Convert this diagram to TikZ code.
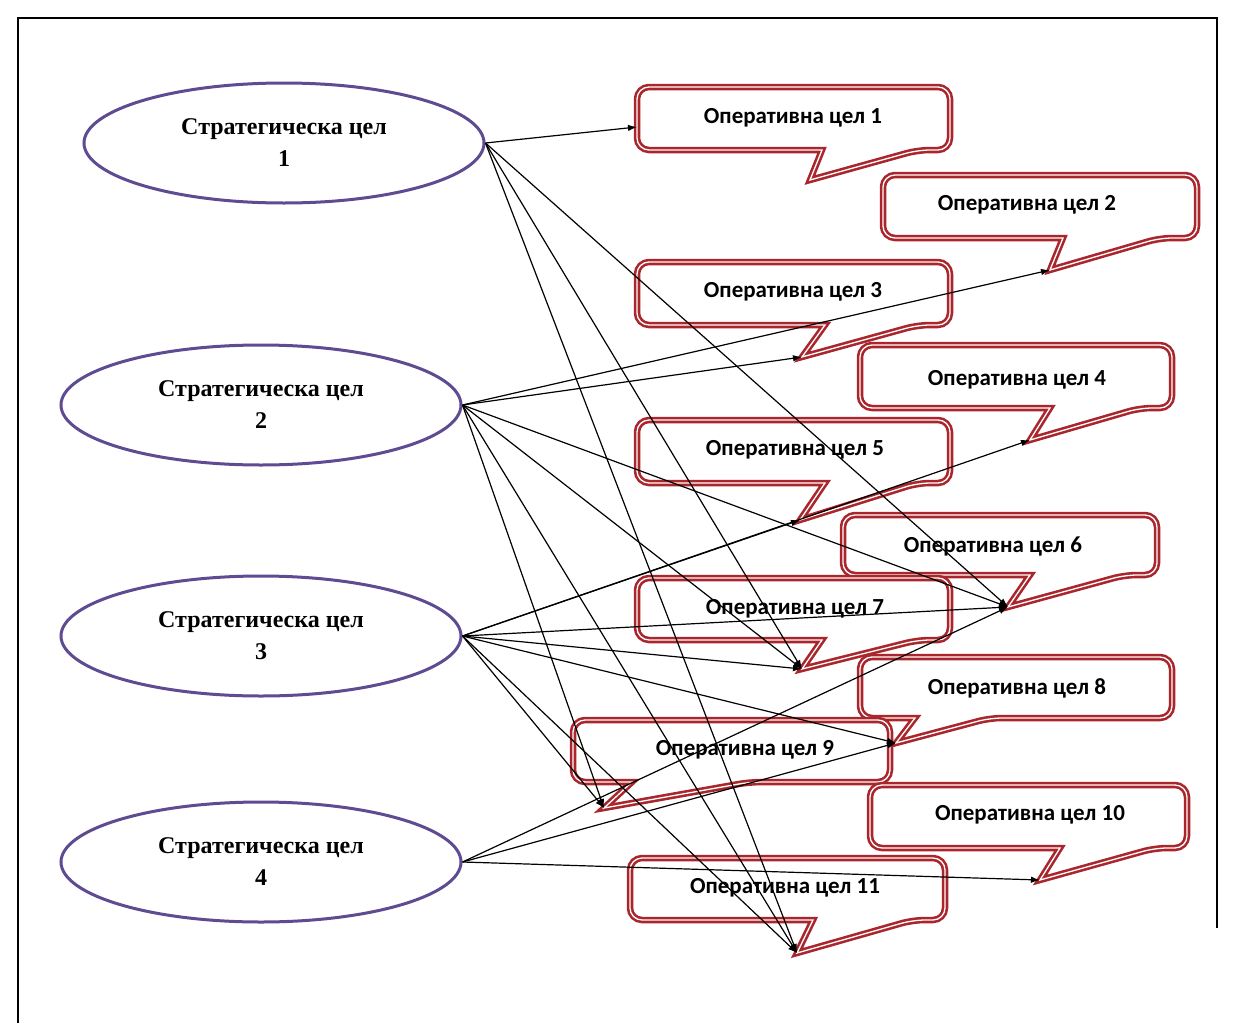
\documentclass[tikz,border=0pt]{standalone}
\usepackage{fontspec}
\setmainfont{Liberation Serif}
\newfontfamily\calfont{Carlito}
\usetikzlibrary{arrows.meta,shapes.geometric}
\definecolor{gpurple}{RGB}{95,75,145}
\definecolor{cred}{RGB}{170,38,45}
\begin{document}
\begin{tikzpicture}[x=1pt,y=-1pt,
  goal/.style={ellipse, draw=gpurple, line width=3pt, fill=white, inner sep=0pt,
    minimum width=400pt, minimum height=120pt, align=center,
    font=\bfseries\fontsize{24}{32}\selectfont},
  cbox/.style={draw=cred, line width=2.6pt, double=white, double distance=1.3pt, fill=white},
  otext/.style={font=\calfont\bfseries\fontsize{23}{26}\selectfont, inner sep=0pt},
  conn/.style={line width=1.2pt, -{Latex[length=9pt,width=6.5pt]}}]
\useasboundingbox (0,0) rectangle (1235,1023);
% frame
\draw[line width=1.6pt] (18,1023) -- (18,18) -- (1217,18) -- (1217,928);
% strategic goals
\node[goal] (e1) at (284,143) {Стратегическа цел\\1};
\node[goal] (e2) at (261,405) {Стратегическа цел\\2};
\node[goal] (e3) at (261,636) {Стратегическа цел\\3};
\node[goal] (e4) at (261,862) {Стратегическа цел\\4};
% operational goals (callouts)
\foreach \n/\xa/\ya/\xb/\yb/\lb/\rb/\tx/\ty/\cx/\cy in {
  1/637/87/950/150/822/918/810/180/793/118,
  2/883/175/1197/238/1063/1160/1050/270/1027/205,
  3/637/262/950/325/825/918/802/357/793/292,
  4/860/345/1172/408/1050/1140/1030/440/1017/380,
  5/637/420/950/483/825/918/800/520/795/450,
  6/843/515/1157/575/1030/1125/1008/607/993/546,
  7/637/578/950/640/822/918/802/669/795/609,
  8/860/657/1172/718/915/990/896/743/1017/688,
  9/573/720/890/782/632/750/604/808/745/750,
  10/870/785/1187/848/1060/1155/1040/880/1030/815,
  11/630/858/945/920/813/913/797/953/785/888}{
  \draw[cbox] ({(\xa+\xb)/2},\ya) [rounded corners=12pt] -- (\xb,\ya) -- (\xb,\yb)
     -- (\rb,\yb) [sharp corners] -- (\tx,\ty) -- (\lb,\yb) [rounded corners=12pt]
     -- (\xa,\yb) -- (\xa,\ya) -- cycle;
  \coordinate (t\n) at (\tx,\ty);
  \node[otext] (o\n) at (\cx,\cy) {Оперативна цел \n};
}
\coordinate (c1in) at (637,127);
% connectors
\draw[conn] (e1.east) -- (c1in);
\foreach \t in {6,7,11} \draw[conn] (e1.east) -- (t\t);
\foreach \t in {2,3,6,7,9,11} \draw[conn] (e2.east) -- (t\t);
\foreach \t in {4,5,6,7,8,9,11} \draw[conn] (e3.east) -- (t\t);
\foreach \t in {6,8,10} \draw[conn] (e4.east) -- (t\t);
\end{tikzpicture}
\end{document}
